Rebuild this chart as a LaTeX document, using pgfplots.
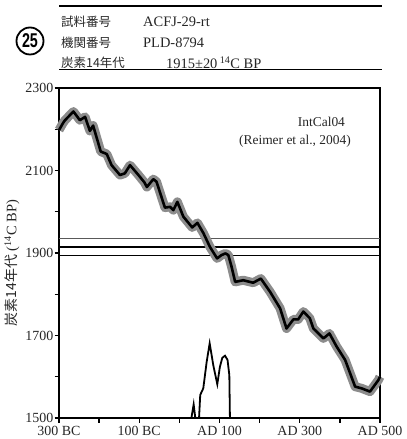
\documentclass[border=0pt]{standalone}
\usepackage{pgfplots}
\pgfplotsset{compat=1.18}
\usepackage{fontspec}
\setmainfont{Liberation Serif}
\newfontfamily\jp{Noto Sans CJK JP}
\newfontfamily\sans{Liberation Sans}

\pgfplotstableread{
x y
-300 2198
-290 2215
-285 2222
-275 2232
-264 2243
-248 2222
-235 2230
-223 2196
-215 2209
-196 2146
-181 2140
-169 2113
-148 2089
-136 2093
-123 2113
-102 2089
-87 2071
-81 2060
-65 2079
-57 2073
-36 2010
-23 2012
-15 2004
-5 2024
10 1988
32 1962
45 1973
60 1948
76 1915
94 1887
105 1895
115 1899
122 1895
130 1867
139 1830
159 1834
184 1828
203 1838
226 1806
251 1766
267 1717
284 1739
296 1739
309 1758
325 1742
334 1717
359 1693
374 1705
392 1673
413 1641
438 1576
454 1572
475 1564
496 1592
500 1600
}\calcurve

\begin{document}
\begin{tikzpicture}[x=1bp,y=1bp]
\useasboundingbox (0,0) rectangle (406,-439);
% header
\draw[line width=1.2bp] (59,-6) -- (382,-6);
\draw[line width=1.2bp] (59,-69.5) -- (382,-69.5);
\begin{scope}[every node/.style={anchor=west, inner sep=0pt, text=black!85}]
\node at (61,-22) {\jp\fontsize{12.5}{12.5}\selectfont 試料番号};
\node at (61,-43) {\jp\fontsize{12.5}{12.5}\selectfont 機関番号};
\node at (61,-63) {\jp\fontsize{12.5}{12.5}\selectfont 炭素14年代};
\node at (143,-22) {\fontsize{14.5}{14.5}\selectfont ACFJ-29-rt};
\node at (143,-43) {\fontsize{14.5}{14.5}\selectfont PLD-8794};
\node at (166,-63) {\fontsize{14.5}{14.5}\selectfont 1915±20\,\textsuperscript{14}C BP};
\end{scope}
\node[draw, circle, line width=1.8bp, minimum size=27bp, inner sep=0pt] at (30,-41)
  {\sans\bfseries\fontsize{20}{20}\selectfont\scalebox{0.72}[1]{25}};
% y label
\node[rotate=90, inner sep=0pt, text=black!85] at (12,-263)
  {\jp\fontsize{14}{14}\selectfont 炭素14年代\rmfamily\fontsize{14.5}{14.5}\selectfont\ (\textsuperscript{14}C BP)};
\begin{axis}[
  at={(59bp,-418bp)}, anchor=south west,
  scale only axis, width=321bp, height=330bp,
  xmin=-300, xmax=500, ymin=1500, ymax=2300,
  separate axis lines,
  every outer x axis line/.append style={line width=2.6bp, line cap=rect},
  every outer y axis line/.append style={line width=2.6bp, line cap=rect},
  xtick={-300,-100,100,300,500},
  xticklabels={300 BC,100 BC,AD 100,AD 300,AD 500},
  minor xtick={-200,0,200,400},
  ytick={1500,1700,1900,2100,2300},
  minor ytick={1600,1800,2000,2200},
  tick align=outside, xtick pos=left, ytick pos=left,
  major tick length=4.5bp, minor tick length=4.5bp,
  every tick/.style={line width=1.4bp, black},
  tick label style={font=\fontsize{14}{14}\selectfont, text=black!85},
  /pgf/number format/assume math mode=true,
  /pgf/number format/1000 sep={},
  yticklabel style={inner sep=1bp},
  xticklabel style={inner sep=1bp, yshift=-2.5bp},
  clip=false,
]
\addplot[gray!70!black, line width=0.9bp] coordinates {(-300,1935) (500,1935)};
\addplot[black, line width=2.2bp] coordinates {(-300,1915) (500,1915)};
\addplot[black, line width=0.9bp] coordinates {(-300,1895) (500,1895)};
\addplot[black!45, line width=9bp, line join=round] table[x=x,y=y] {\calcurve};
\addplot[black, line width=2.6bp, line join=round] table[x=x,y=y] {\calcurve};
\addplot[black, line width=1.8bp, line join=miter] coordinates {
(30,1500) (35.6,1533) (39.7,1500) (49,1500) (52,1556) (59.6,1572) (68,1636)
(75.5,1681) (84.5,1628) (94.5,1582) (101,1624) (107,1646) (113.7,1651)
(120,1641) (124.5,1604) (126,1500)};
\node[text=black!85, font=\fontsize{13.5}{13.5}\selectfont] at (axis cs:354,2218) {IntCal04};
\node[text=black!85, font=\fontsize{13.5}{13.5}\selectfont] at (axis cs:288,2170) {(Reimer et al., 2004)};
\end{axis}
\end{tikzpicture}
\end{document}
